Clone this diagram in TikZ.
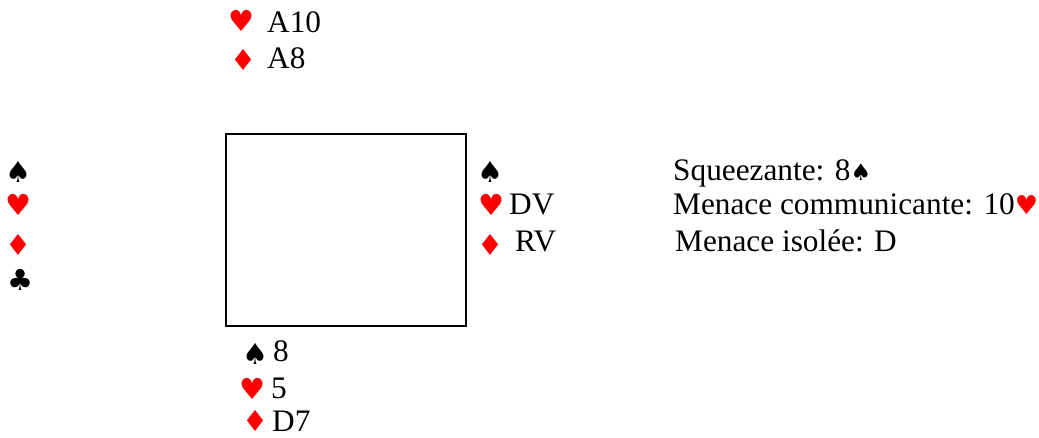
\documentclass[tikz,border=0pt]{standalone}
\usepackage{fontspec}
\setmainfont{Liberation Serif}
\newfontfamily\suitfam{DejaVu Sans}
\newcommand{\txtfont}{\fontsize{31.3}{37}\selectfont}
\newcommand{\suitfont}{\suitfam\fontsize{29}{30}\selectfont}
\newcommand{\suitsmall}{\suitfam\fontsize{23}{30}\selectfont}
\newcommand{\suitinl}{\suitfam\fontsize{26}{30}\selectfont}
\definecolor{suitred}{RGB}{255,0,0}
\tikzset{
  txt/.style={font=\txtfont, anchor=base west, inner sep=0pt},
  suit/.style={font=\suitfont, anchor=center, inner sep=0pt},
  rsuit/.style={suit, text=suitred},
}
\begin{document}
\begin{tikzpicture}[x=1pt,y=-1pt]
\useasboundingbox (0,0) rectangle (1039,438);
% North
\node[rsuit] (nh) at (241,21) {♥};
\node[txt] (nht) at (267,33) {A10};
\node[rsuit] (nd) at (243,60) {♦};
\node[txt] (ndt) at (267,69) {A8};
% West
\node[suit] (ws) at (18,172) {♠};
\node[rsuit] (wh) at (18,205) {♥};
\node[rsuit] (wd) at (18,245) {♦};
\node[suit] (wc) at (20,280) {♣};
% Table
\node[draw, line width=1.3pt, minimum width=240pt, minimum height=192pt, inner sep=0pt] (table) at (346,230) {};
% East
\node[suit] (es) at (490,172) {♠};
\node[rsuit] (eh) at (491,205) {♥};
\node[txt] (eht) at (509,215) {DV};
\node[rsuit] (ed) at (490,245) {♦};
\node[txt] (edt) at (515,252) {RV};
% South
\node[suit] (ss) at (255,354) {♠};
\node[txt] (sst) at (273,362) {8};
\node[rsuit] (sh) at (252,389) {♥};
\node[txt] (sht) at (271,398) {5};
\node[rsuit] (sd) at (255,421) {♦};
\node[txt] (sdt) at (272,431) {D7};
% Notes
\node[txt] (n1) at (673,181) {Squeezante: 8{\suitsmall ♠}};
\node[txt] (n2) at (673,215) {Menace communicante: 10{\suitinl\color{suitred}♥}};
\node[txt] (n3) at (675,252) {Menace isolée: D};
\end{tikzpicture}
\end{document}
